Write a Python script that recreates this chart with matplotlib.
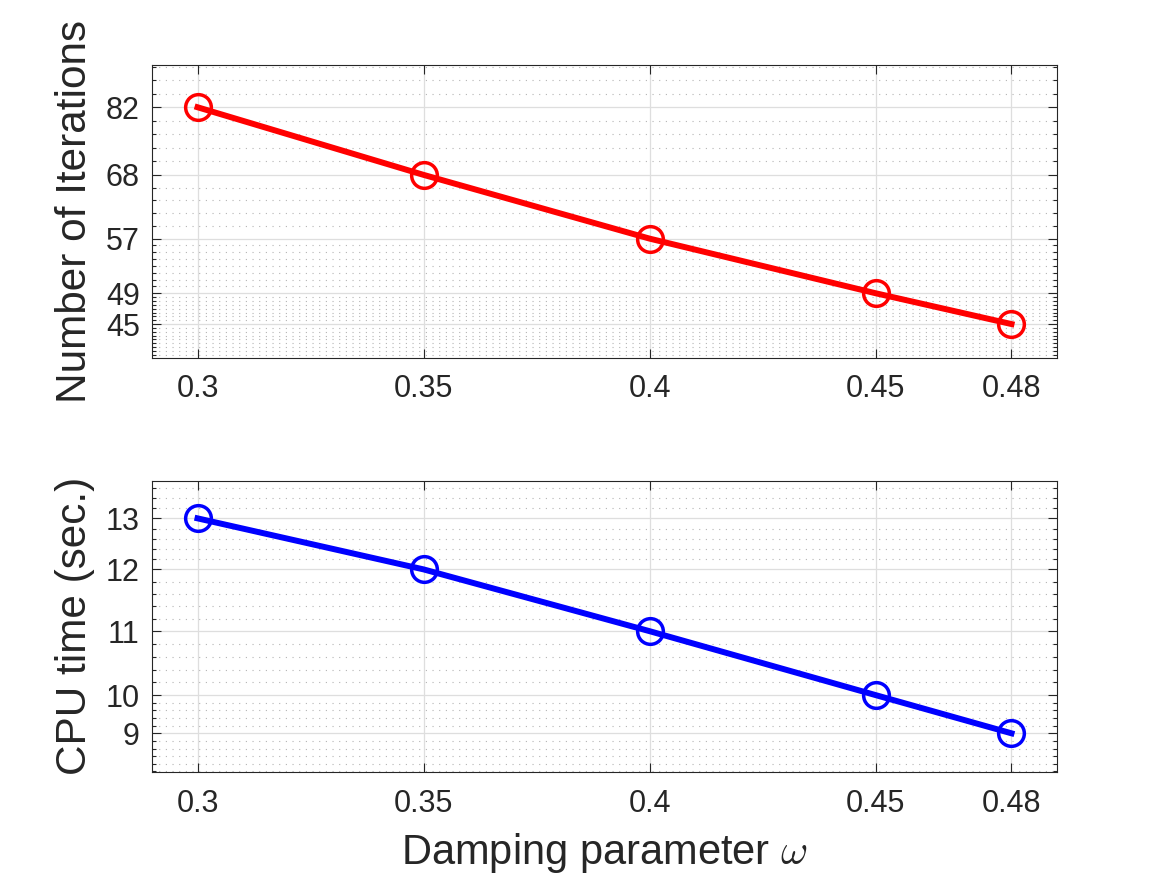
import numpy as np
import matplotlib
matplotlib.use("Agg")
import matplotlib.pyplot as plt

# ---- data ----
omega = [0.30, 0.35, 0.40, 0.45, 0.48]
iterations = [82, 68, 57, 49, 45]
cpu_time = [13.0, 12.05, 10.9, 9.71, 9.0]
x_tick_labels = ["0.3", "0.35", "0.4", "0.45", "0.48"]
iter_tick_labels = ["82", "68", "57", "49", "45"]
cpu_tick_labels = ["13", "12", "11", "10", "9"]

FONT = ["Liberation Sans", "DejaVu Sans"]
plt.rcParams["font.family"] = FONT
plt.rcParams["mathtext.fontset"] = "cm"
TXT = "#262626"

fig = plt.figure(figsize=(11.67, 8.75), dpi=100)
ax1 = fig.add_axes([0.1305, 0.5912, 0.775, 0.3342])
ax2 = fig.add_axes([0.1305, 0.1177, 0.775, 0.3329])


def minor_ticks(majors, counts, lo, hi, fwd, inv):
    majors = sorted(majors)
    t = [fwd(m) for m in majors]
    out = []
    for i, n in enumerate(counts):
        a, b = t[i], t[i + 1]
        for k in range(1, n):
            out.append(a + (b - a) * k / n)
    step = (t[1] - t[0]) / counts[0]
    v = t[0] - step
    while v > fwd(lo):
        out.append(v)
        v -= step
    step = (t[-1] - t[-2]) / counts[-1]
    v = t[-1] + step
    while v < fwd(hi):
        out.append(v)
        v += step
    return [inv(x) for x in out]


def style(ax, color, y, yticks, ylabels, ylim, counts, logscale):
    ax.plot(omega, y, "-o", color=color, lw=4.3, ms=18.5, mfc="none",
            mew=2.5, mec=color, zorder=3, clip_on=False)
    if logscale:
        ax.set_yscale("log")
        fwd, inv = np.log10, lambda v: 10 ** v
    else:
        fwd, inv = (lambda v: v), (lambda v: v)
    ax.set_xlim(0.29, 0.49)
    ax.set_ylim(*ylim)
    ax.set_xticks(omega)
    ax.set_xticklabels(x_tick_labels)
    ax.set_xticks([], minor=True)
    ax.set_yticks(yticks)
    ax.set_yticklabels(ylabels)
    ax.set_yticks(minor_ticks(yticks, counts, ylim[0], ylim[1], fwd, inv), minor=True)
    ax.yaxis.set_minor_formatter(matplotlib.ticker.NullFormatter())
    ax.tick_params(which="both", direction="in", top=True, right=True,
                   colors=TXT, width=0.8, labelsize=22)
    ax.tick_params(which="major", length=6.5)
    ax.tick_params(which="minor", length=3.2)
    ax.tick_params(axis="x", pad=12)
    ax.tick_params(axis="y", pad=9)
    ax.grid(True, which="major", color="#dedede", lw=0.9, zorder=0)
    ax.grid(True, which="minor", axis="y", color="#b4b4b4", lw=0.8,
            linestyle=(0, (1, 5)), zorder=0)
    for s in ax.spines.values():
        s.set_color(TXT)
        s.set_linewidth(0.8)
    ax.set_axisbelow(True)


style(ax1, (1, 0, 0), iterations, iterations, iter_tick_labels,
      (41.0, 92.1), [8, 8, 5, 5], True)
style(ax2, (0, 0, 1), cpu_time, cpu_time, cpu_tick_labels,
      (8.28, 13.70), [5, 5, 5, 5], False)

ax1.set_ylabel("Number of Iterations", fontsize=30.4, color=TXT, labelpad=8)
ax2.set_ylabel("CPU time (sec.)", fontsize=30.4, color=TXT, labelpad=8)
ax2.set_xlabel(r"Damping parameter $\omega$", fontsize=30, color=TXT, labelpad=9)

fig.savefig("out.png", dpi=100, facecolor="white")
